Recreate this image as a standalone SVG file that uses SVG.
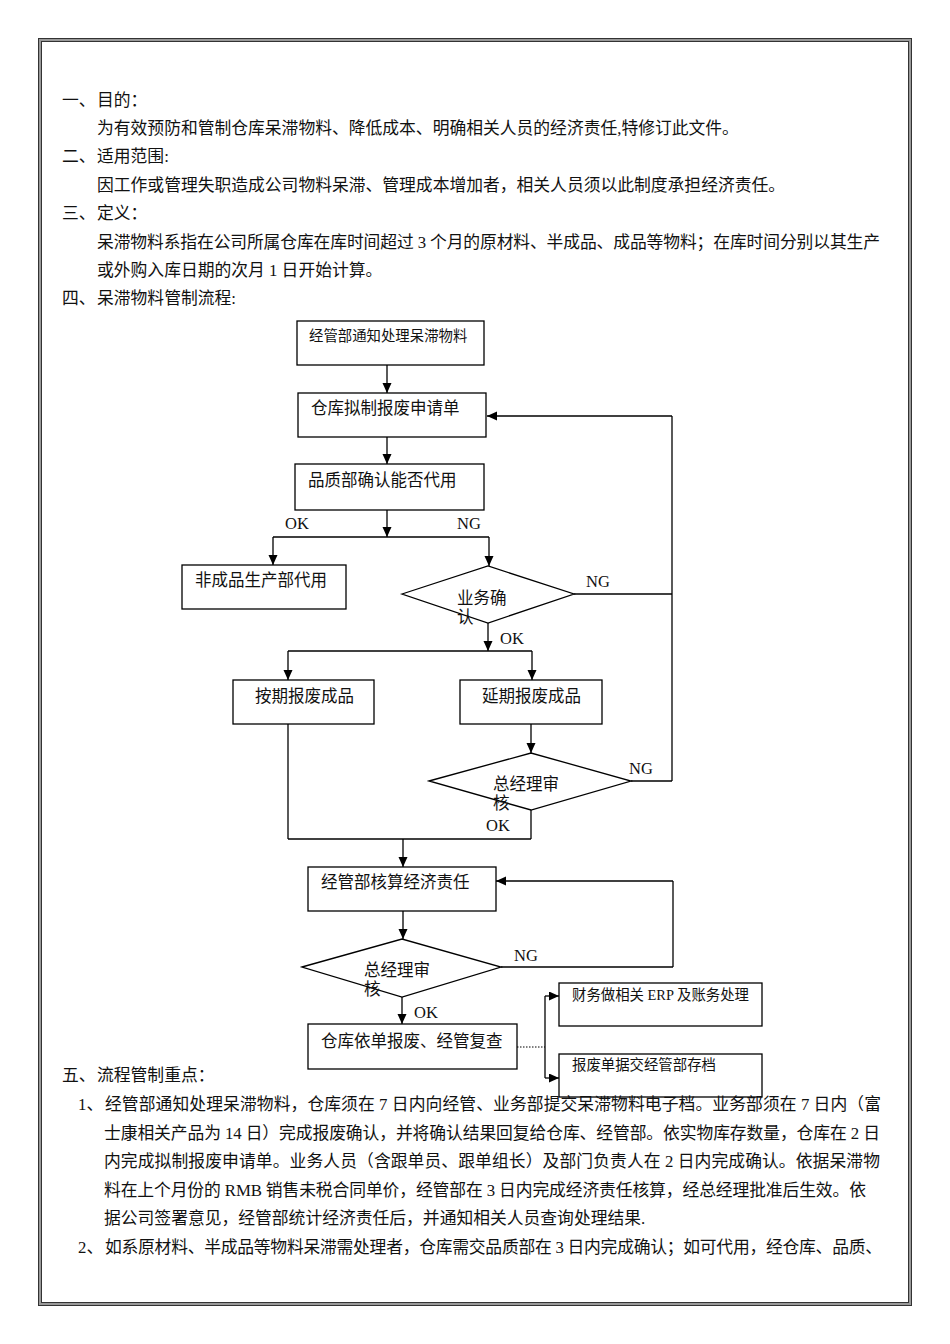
<svg xmlns="http://www.w3.org/2000/svg" width="950" height="1344" viewBox="0 0 950 1344">
<style>
text{font-family:"Liberation Serif","Noto Sans CJK SC",serif;fill:#111;}
.b{font-size:16.8px;}
.n{font-size:16.5px;}
.s{font-size:14.4px;}
.box{fill:#fff;stroke:#000;stroke-width:1.3;}
.ln{fill:none;stroke:#000;stroke-width:1.3;}
.ar{fill:none;stroke:#000;stroke-width:1.3;marker-end:url(#ah);}
.dot{fill:none;stroke:#000;stroke-width:1;stroke-dasharray:1.5,1.5;}
</style>
<defs>
<marker id="ah" markerUnits="userSpaceOnUse" markerWidth="10" markerHeight="10" refX="10" refY="4.5" orient="auto">
<path d="M0,0 L10,4.5 L0,9 z" fill="#000"/>
</marker>
</defs>
<rect width="950" height="1344" fill="#fff"/>
<g id="frame">
<rect x="40" y="40" width="870" height="1264" fill="none" stroke="#999" stroke-width="3"/>
<rect x="38.5" y="38.5" width="873" height="1267" fill="none" stroke="#333" stroke-width="1"/>
<rect x="41.5" y="41.5" width="867" height="1261" fill="none" stroke="#333" stroke-width="1"/>
</g>
<g id="text-top" class="b">
<text x="62" y="106">一、</text><text x="97" y="106">目的：</text>
<text x="97" y="134">为有效预防和管制仓库呆滞物料、降低成本、明确相关人员的经济责任,特修订此文件。</text>
<text x="62" y="162">二、</text><text x="97" y="162">适用范围:</text>
<text x="97" y="191">因工作或管理失职造成公司物料呆滞、管理成本增加者，相关人员须以此制度承担经济责任。</text>
<text x="62" y="219">三、</text><text x="97" y="219">定义：</text>
<text x="97" y="248" textLength="783" lengthAdjust="spacing">呆滞物料系指在公司所属仓库在库时间超过 3 个月的原材料、半成品、成品等物料；在库时间分别以其生产</text>
<text x="97" y="276">或外购入库日期的次月 1 日开始计算。</text>
<text x="62" y="304">四、</text><text x="97" y="304">呆滞物料管制流程:</text>
</g>
<g id="connectors">
<line class="ar" x1="387" y1="365" x2="387" y2="393"/>
<line class="ar" x1="387" y1="437" x2="387" y2="464"/>
<line class="ar" x1="387" y1="510" x2="387" y2="537"/>
<line class="ln" x1="273" y1="537" x2="489" y2="537"/>
<line class="ar" x1="273" y1="537" x2="273" y2="565"/>
<line class="ar" x1="489" y1="537" x2="489" y2="566"/>
<line class="ln" x1="574" y1="594" x2="672" y2="594"/>
<line class="ln" x1="672" y1="416" x2="672" y2="781"/>
<line class="ar" x1="672" y1="416" x2="487" y2="416"/>
<line class="ar" x1="488" y1="623" x2="488" y2="651"/>
<line class="ln" x1="288" y1="651" x2="532" y2="651"/>
<line class="ar" x1="288" y1="651" x2="288" y2="680"/>
<line class="ar" x1="532" y1="651" x2="532" y2="680"/>
<line class="ar" x1="531" y1="724" x2="531" y2="753"/>
<line class="ln" x1="631" y1="781" x2="672" y2="781"/>
<line class="ln" x1="531" y1="810" x2="531" y2="839"/>
<line class="ln" x1="288" y1="724" x2="288" y2="839"/>
<line class="ln" x1="288" y1="839" x2="531" y2="839"/>
<line class="ar" x1="403" y1="839" x2="403" y2="867"/>
<line class="ar" x1="403" y1="911" x2="403" y2="939"/>
<line class="ln" x1="501" y1="967" x2="673" y2="967"/>
<line class="ln" x1="673" y1="967" x2="673" y2="881"/>
<line class="ar" x1="673" y1="881" x2="496" y2="881"/>
<line class="ar" x1="402" y1="997" x2="402" y2="1024"/>
<line class="dot" x1="517" y1="1047" x2="545" y2="1047"/>
<line class="ln" x1="545" y1="996" x2="545" y2="1078"/>
<line class="ar" x1="545" y1="996" x2="559" y2="996"/>
<line class="ar" x1="545" y1="1078" x2="559" y2="1078"/>
<g class="n">
<text x="285" y="529">OK</text>
<text x="457" y="529">NG</text>
<text x="586" y="587">NG</text>
<text x="500" y="644">OK</text>
<text x="629" y="774">NG</text>
<text x="486" y="831">OK</text>
<text x="514" y="961">NG</text>
<text x="414" y="1018">OK</text>
</g>
</g>
<g id="n1"><rect class="box" x="297" y="321" width="187" height="44"/><text class="s" x="309" y="341">经管部通知处理呆滞物料</text></g>
<g id="n2"><rect class="box" x="298" y="393" width="188" height="44"/><text class="n" x="311" y="414">仓库拟制报废申请单</text></g>
<g id="n3"><rect class="box" x="295" y="464" width="189" height="46"/><text class="n" x="308" y="486">品质部确认能否代用</text></g>
<g id="n4"><rect class="box" x="182" y="565" width="164" height="44"/><text class="n" x="195" y="586">非成品生产部代用</text></g>
<g id="d1"><polygon class="box" points="402,594 488,566 574,594 488,623"/><text class="n" x="457" y="604">业务确</text><text class="n" x="457" y="623">认</text></g>
<g id="n5"><rect class="box" x="233" y="680" width="141" height="44"/><text class="n" x="255" y="702">按期报废成品</text></g>
<g id="n6"><rect class="box" x="460" y="680" width="142" height="44"/><text class="n" x="482" y="702">延期报废成品</text></g>
<g id="d2"><polygon class="box" points="429,781 531,753 631,781 531,810"/><text class="n" x="493" y="790">总经理审</text><text class="n" x="493" y="809">核</text></g>
<g id="n7"><rect class="box" x="308" y="867" width="188" height="44"/><text class="n" x="321" y="888">经管部核算经济责任</text></g>
<g id="d3"><polygon class="box" points="302,967 402,939 501,967 402,997"/><text class="n" x="364" y="976">总经理审</text><text class="n" x="364" y="995">核</text></g>
<g id="n8"><rect class="box" x="308" y="1024" width="209" height="45"/><text class="n" x="321" y="1047">仓库依单报废、经管复查</text></g>
<g id="n9"><rect class="box" x="559" y="983" width="203" height="43"/><text class="s" x="572" y="1000">财务做相关 ERP 及账务处理</text></g>
<g id="n10"><rect class="box" x="559" y="1054" width="203" height="43"/><text class="s" x="572" y="1070">报废单据交经管部存档</text></g>
<g id="text-bottom" class="b">
<text x="62" y="1081">五、</text><text x="97" y="1081">流程管制重点：</text>
<text x="78" y="1110">1、</text>
<text x="105" y="1110" textLength="776" lengthAdjust="spacing">经管部通知处理呆滞物料，仓库须在 7 日内向经管、业务部提交呆滞物料电子档。业务部须在 7 日内（富</text>
<text x="104" y="1139" textLength="776" lengthAdjust="spacing">士康相关产品为 14 日）完成报废确认，并将确认结果回复给仓库、经管部。依实物库存数量，仓库在 2 日</text>
<text x="104" y="1167" textLength="776" lengthAdjust="spacing">内完成拟制报废申请单。业务人员（含跟单员、跟单组长）及部门负责人在 2 日内完成确认。依据呆滞物</text>
<text x="104" y="1196" textLength="762" lengthAdjust="spacing">料在上个月份的 RMB 销售未税合同单价，经管部在 3 日内完成经济责任核算，经总经理批准后生效。依</text>
<text x="104" y="1224">据公司签署意见，经管部统计经济责任后，并通知相关人员查询处理结果.</text>
<text x="78" y="1253">2、</text>
<text x="105" y="1253" textLength="777" lengthAdjust="spacing">如系原材料、半成品等物料呆滞需处理者，仓库需交品质部在 3 日内完成确认；如可代用，经仓库、品质、</text>
</g>
</svg>
